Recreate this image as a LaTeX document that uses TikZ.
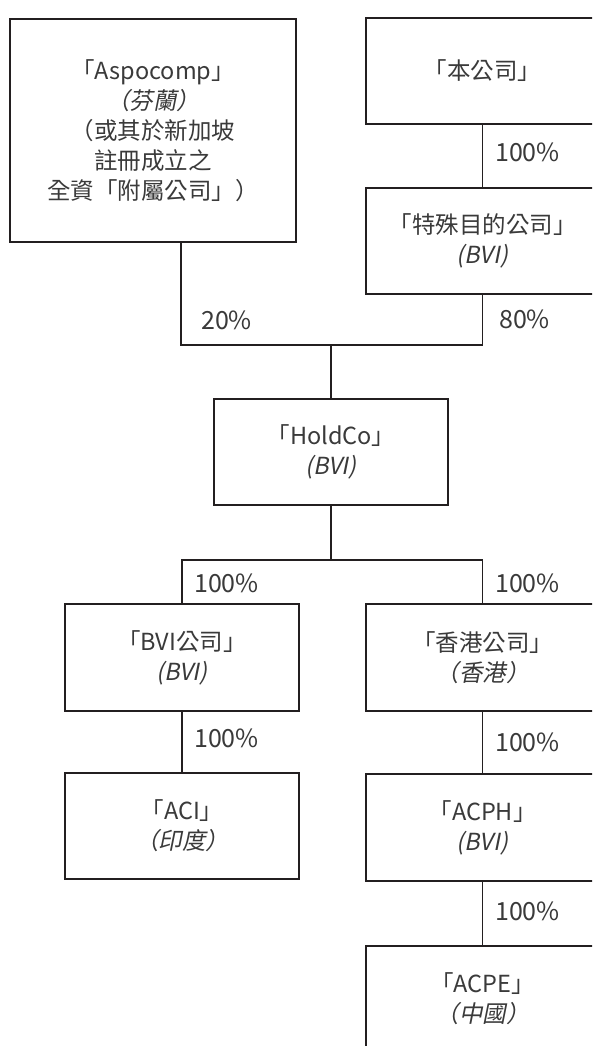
\documentclass[tikz,border=0pt]{standalone}
\usepackage{fontspec}
\setmainfont{Noto Sans CJK TC}
\newfontfamily\itf{Noto Sans CJK TC}[FakeSlant=0.2]
\definecolor{ink}{HTML}{231F20}
\definecolor{txt}{HTML}{3A3A3A}
\begin{document}
\begin{tikzpicture}[x=1pt,y=-1pt,
  box/.style={draw=ink, line width=1.4pt, minimum width=233pt, minimum height=106pt,
    inner sep=0pt, align=center, font=\fontsize{23.5}{30}\selectfont, text=txt},
  pct/.style={anchor=west, inner sep=0pt, font=\fontsize{25}{28}\selectfont, text=txt},
  link/.style={draw=ink, line width=1.4pt}]
\useasboundingbox (0,0) rectangle (592,1046);
\clip (0,0) rectangle (592,1046);
\fill[white] (0,0) rectangle (592,1046);
% boxes
\node[box, minimum width=286pt, minimum height=223pt] (asp) at (153,130.5)
  {「Aspocomp」\\{\itf （芬蘭）}\\（或其於新加坡\\註冊成立之\\全資「附屬公司」）};
\node[box] (ben) at (482.5,71) {「本公司」};
\node[box] (spv) at (482.5,241) {「特殊目的公司」\\{\itf (BVI)}};
\node[box, minimum width=234pt] (hold) at (331,452) {「HoldCo」\\{\itf (BVI)}};
\node[box, minimum width=234pt, minimum height=107pt] (bvi) at (182,657.5) {「BVI公司」\\{\itf (BVI)}};
\node[box, minimum height=107pt] (hk) at (482.5,657.5) {「香港公司」\\{\itf （香港）}};
\node[box, minimum width=234pt] (aci) at (182,826) {「ACI」\\{\itf （印度）}};
\node[box, minimum height=107pt] (acph) at (482.5,827.5) {「ACPH」\\{\itf (BVI)}};
\node[box] (acpe) at (482.5,999) {「ACPE」\\{\itf （中國）}};
% junctions
\coordinate (jA) at (181,345);
\coordinate (jB) at (482.5,345);
\coordinate (jC) at (331,345);
\coordinate (jD) at (331,560);
\coordinate (jE) at (182,560);
\coordinate (jF) at (482.5,560);
% connectors
\draw[link] (ben.south) -- (spv.north);
\draw[link] (asp.south -| jA) -- (jA) -- (jB) -- (spv.south);
\draw[link] (jC) -- (hold.north);
\draw[link] (hold.south) -- (jD);
\draw[link] (bvi.north) -- (jE) -- (jF) -- (hk.north);
\draw[link] (bvi.south) -- (aci.north);
\draw[link] (hk.south) -- (acph.north);
\draw[link] (acph.south) -- (acpe.north);
% labels
\node[pct] (l1) at (495,152) {100\%};
\node[pct] (l2) at (201,320) {20\%};
\node[pct] (l3) at (499,319) {80\%};
\node[pct] (l4) at (194,583) {100\%};
\node[pct] (l5) at (495,583) {100\%};
\node[pct] (l6) at (194,738) {100\%};
\node[pct] (l7) at (495,742) {100\%};
\node[pct] (l8) at (495,911) {100\%};
\end{tikzpicture}
\end{document}
